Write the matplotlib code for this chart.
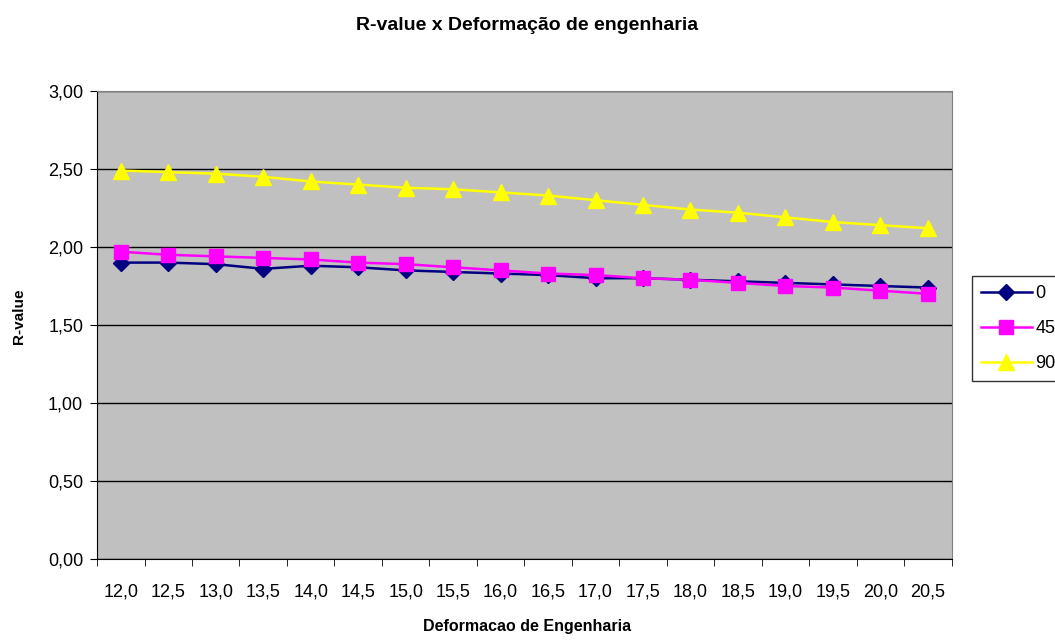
import matplotlib
matplotlib.use("Agg")
import matplotlib.pyplot as plt
import numpy as np

plt.rcParams['font.family'] = ['Liberation Sans', 'DejaVu Sans']

deform = ["12,0", "12,5", "13,0", "13,5", "14,0", "14,5", "15,0", "15,5", "16,0",
          "16,5", "17,0", "17,5", "18,0", "18,5", "19,0", "19,5", "20,0", "20,5"]
r0 = [1.90, 1.90, 1.89, 1.86, 1.88, 1.87, 1.85, 1.84, 1.83,
      1.82, 1.80, 1.80, 1.79, 1.78, 1.77, 1.76, 1.75, 1.74]
r45 = [1.97, 1.95, 1.94, 1.93, 1.92, 1.90, 1.89, 1.87, 1.85,
       1.83, 1.82, 1.80, 1.79, 1.77, 1.75, 1.74, 1.72, 1.70]
r90 = [2.49, 2.48, 2.47, 2.45, 2.42, 2.40, 2.38, 2.37, 2.35,
       2.33, 2.30, 2.27, 2.24, 2.22, 2.19, 2.16, 2.14, 2.12]

fig = plt.figure(figsize=(10.55, 6.4), dpi=100)
ax = fig.add_axes([0.092, 0.1266, 0.81, 0.7312])
ax.set_facecolor('#C0C0C0')

x = np.arange(len(deform))
ax.plot(x, r0, color='#000080', marker='D', markersize=8, lw=1.8, label='0')
ax.plot(x, r45, color='#FF00FF', marker='s', markersize=10, lw=1.8, label='45')
ax.plot(x, r90, color='#FFFF00', marker='^', markersize=11, lw=1.8, label='90')

ax.set_xlim(-0.5, len(deform) - 0.5)
ax.set_ylim(0, 3)
yt = np.arange(0, 3.01, 0.5)
ax.set_yticks(yt)
ax.set_yticklabels([f"{v:.2f}".replace('.', ',') for v in yt], fontsize=13)
ax.yaxis.grid(True, color='black', lw=1)
ax.set_axisbelow(True)
ax.set_xticks(x)
ax.set_xticklabels(deform, fontsize=13)
ax.set_xticks(np.arange(-0.5, len(deform)), minor=True)
ax.tick_params(axis='x', which='major', length=0, pad=18)
ax.tick_params(axis='x', which='minor', length=5, direction='out')
ax.tick_params(axis='y', length=5, direction='out', pad=5)
for s in ['top', 'right']:
    ax.spines[s].set_color('#808080')

fig.text(0.5, 1 - 627 / 640, 'Deformacao de Engenharia', ha='center', va='center',
         fontsize=11.5, fontweight='bold')
fig.text(19 / 1055, 1 - 316 / 640, 'R-value', ha='center', va='center', rotation=90,
         fontsize=11, fontweight='bold')
fig.text(0.5, 1 - 25 / 640, 'R-value x Deformação de engenharia', ha='center', va='center',
         fontsize=14, fontweight='bold')

leg = fig.legend(loc='upper left', bbox_to_anchor=(972 / 1055, 1 - 276 / 640), fontsize=13,
                 frameon=True, fancybox=False, edgecolor='black', handlelength=2.8,
                 borderpad=0.5, labelspacing=1.0, handletextpad=0.2, borderaxespad=0)
leg.get_frame().set_linewidth(1)

fig.savefig('out.png', dpi=100)
